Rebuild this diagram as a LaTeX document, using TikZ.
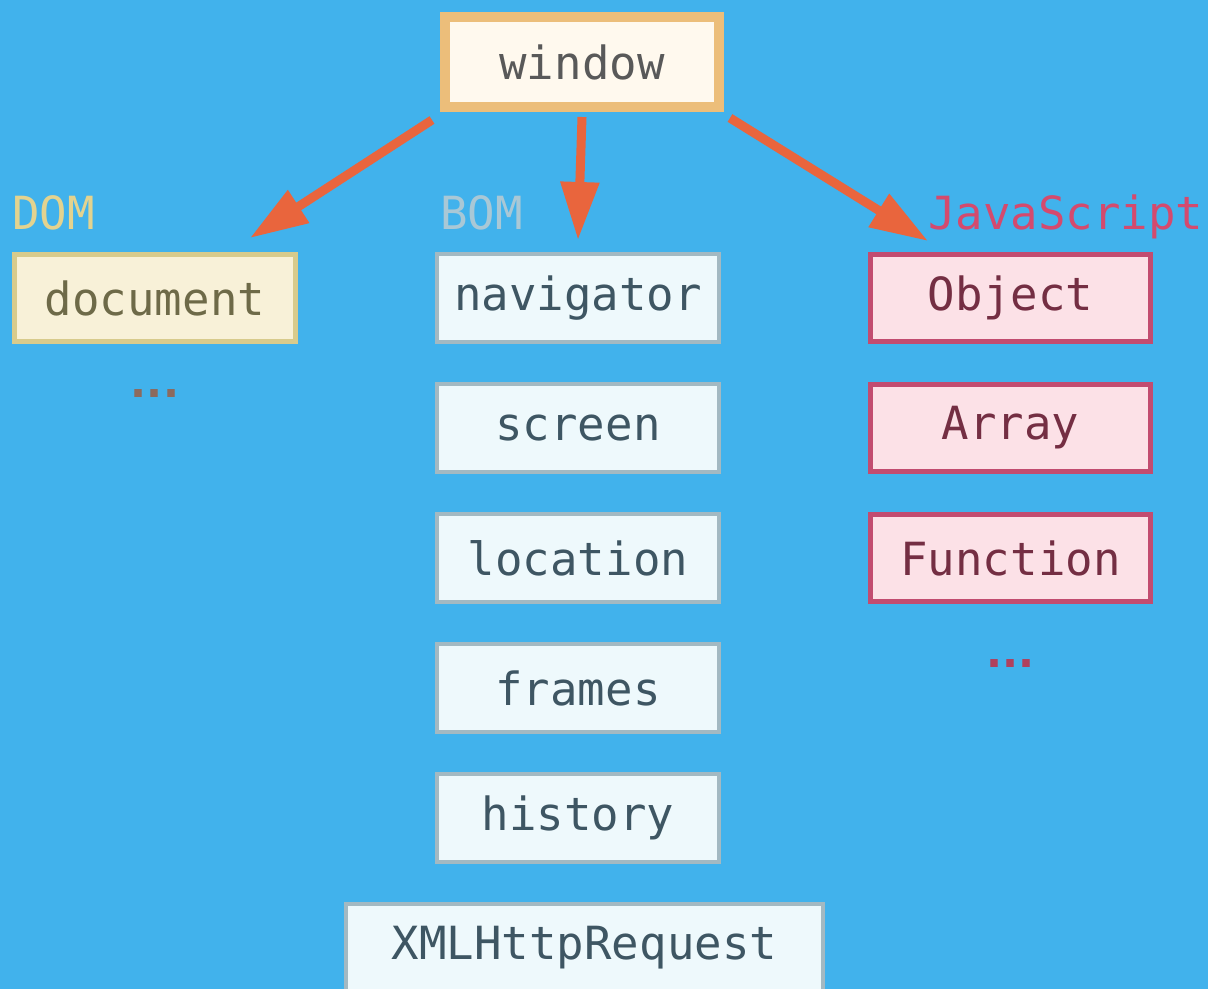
\documentclass[tikz,border=0pt]{standalone}
\usepackage{fontspec}
\setmonofont{DejaVu Sans Mono}
\newfontfamily\dotsfont{DejaVu Sans}
\usepackage{tikz}
\usetikzlibrary{positioning, arrows.meta}

\definecolor{bgblue}{RGB}{65,178,236}
\definecolor{arrowred}{RGB}{233,101,61}
\definecolor{winborder}{RGB}{236,190,122}
\definecolor{winfill}{RGB}{255,249,238}
\definecolor{domborder}{RGB}{216,203,140}
\definecolor{domfill}{RGB}{248,241,216}
\definecolor{domtext}{RGB}{110,106,72}
\definecolor{domlabel}{RGB}{227,211,143}
\definecolor{domdotcol}{RGB}{140,106,94}
\definecolor{bomborder}{RGB}{163,185,194}
\definecolor{bomfill}{RGB}{238,249,252}
\definecolor{bomtext}{RGB}{62,86,99}
\definecolor{bomlabel}{RGB}{169,200,214}
\definecolor{jsborder}{RGB}{194,76,112}
\definecolor{jsfill}{RGB}{252,225,231}
\definecolor{jsdotcol}{RGB}{176,64,94}
\definecolor{jslabel}{RGB}{212,74,110}

\begin{document}
\begin{tikzpicture}[
    node distance=0.76cm,
    every node/.style={rectangle, align=center, font=\ttfamily\fontsize{26}{30}\selectfont},
    winbox/.style={draw=winborder, line width=0.2cm, fill=winfill, text=black!65, minimum width=5.48cm, minimum height=1.8cm},
    dombox/.style={draw=domborder, line width=0.1cm, fill=domfill, text=domtext, minimum width=5.62cm, minimum height=1.74cm},
    bombox/.style={draw=bomborder, line width=0.08cm, fill=bomfill, text=bomtext, minimum width=5.64cm, minimum height=1.76cm},
    jsbox/.style={draw=jsborder, line width=0.1cm, fill=jsfill, text=jsborder!60!black, minimum width=5.6cm, minimum height=1.74cm},
    grouplabel/.style={inner sep=0pt, anchor=base west},
    more/.style={inner sep=0pt, font=\dotsfont\bfseries\fontsize{24}{28}\selectfont},
    arrow/.style={-{Triangle[length=1.16cm, width=0.74cm]}, line width=0.18cm, draw=arrowred}
]
% background and page size
\fill[bgblue] (0,0) rectangle (24.16,-19.78);
\useasboundingbox (0,0) rectangle (24.16,-19.78);

\node[winbox] (window) at (11.64,-1.24) {window};

% BOM column
\node[bombox, below=2.8cm of window, xshift=-0.08cm] (navigator) {navigator};
\node[bombox, below=of navigator] (screen) {screen};
\node[bombox, below=of screen] (location) {location};
\node[bombox, below=of location] (frames) {frames};
\node[bombox, below=of frames] (history) {history};
\node[bombox, below=of history, minimum width=9.54cm, xshift=0.13cm] (xhr) {XMLHttpRequest};

% DOM and JavaScript columns
\node[dombox, left=2.74cm of navigator] (document) {document};
\node[jsbox, right=2.94cm of navigator] (Object) {Object};
\node[jsbox, below=of Object] (Array) {Array};
\node[jsbox, below=of Array] (Function) {Function};

\node[more, text=domdotcol, anchor=center] (domdots) at ([yshift=-1.0cm]document.south) {...};
\node[more, text=jsdotcol, anchor=center] (jsdots) at ([yshift=-1.2cm]Function.south) {...};

% group labels
\node[grouplabel, text=domlabel] (domlbl) at ([yshift=0.44cm]document.north west) {DOM};
\node[grouplabel, text=bomlabel] (bomlbl) at ([shift={(0.1,0.44)}]navigator.north west) {BOM};
\node[grouplabel, text=jslabel] (jslbl) at ([shift={(1.2,0.44)}]Object.north west) {JavaScript};

\draw[arrow] ([shift={(-0.16,-0.16)}]window.south west) -- ([shift={(-0.96,0.28)}]document.north east);
\draw[arrow] ([yshift=-0.1cm]window.south) -- ([yshift=0.24cm]navigator.north);
\draw[arrow] ([shift={(0.12,-0.12)}]window.south east) -- ([shift={(1.2,0.22)}]Object.north west);

\end{tikzpicture}
\end{document}
